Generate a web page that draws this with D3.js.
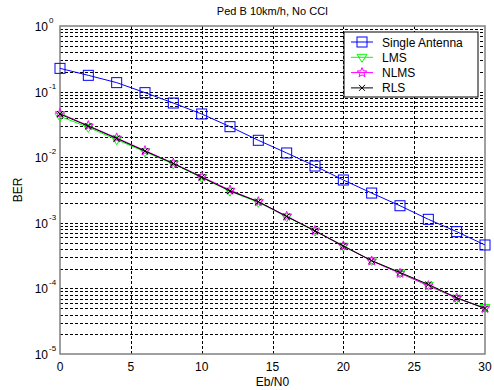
<!DOCTYPE html>
<html lang="en">
<head>
<meta charset="UTF-8">
<title>BER</title>
<script src="https://d3js.org/d3.v7.min.js"></script>
<style>
  body { margin: 0; background: #fff; }
  text { font-family: Arial, "Liberation Sans", sans-serif; }
</style>
</head>
<body>
<script>
    const width = 494;
    const height = 390;
    const margin = {left: 60, top: 26, right: 9, bottom: 36};

    // values
    const ebn0 = [0, 2, 4, 6, 8, 10, 12, 14, 16, 18, 20, 22, 24, 26, 28, 30];
    const single = [0.226, 0.177, 0.137, 0.0964, 0.067, 0.0456, 0.0292, 0.0181, 0.0116, 0.00734, 0.00449, 0.00284, 0.00182, 0.00113, 0.000733, 0.000459];
    const lms = [0.042, 0.0285, 0.0185, 0.0121, 0.0079, 0.0049, 0.00303, 0.00205, 0.00123, 0.00075, 0.00044, 0.000266, 0.000172, 0.000111, 0.0000705, 0.000051];
    const nlms = [0.0465, 0.0303, 0.0197, 0.0126, 0.0081, 0.00505, 0.00315, 0.0021, 0.00126, 0.00076, 0.000445, 0.000262, 0.00017, 0.00011, 0.0000712, 0.0000495];
    const rls = [0.0455, 0.0298, 0.0193, 0.0124, 0.008, 0.00495, 0.00306, 0.0021, 0.00125, 0.00075, 0.000443, 0.000265, 0.000175, 0.000115, 0.000072, 0.0000495];
    const xTicks = [0, 5, 10, 15, 20, 25, 30];
    const yExps = [0, -1, -2, -3, -4, -5];
    const names = ["Single Antenna", "LMS", "NLMS", "RLS"];
    const colors = ["#0000ff", "#00ff00", "#ff00ff", "#000000"];
    const symbols = ["square", "triangle", "star", "x"];

    const x = d3.scaleLinear().domain([0, 30]).range([margin.left, width - margin.right]);
    const y = d3.scaleLog().domain([1e-5, 1]).range([height - margin.bottom, margin.top]);

    const svg = d3.select("body").append("svg").attr("width", width).attr("height", height);

    // grid
    const grid = svg.append("g").attr("stroke", "#000").attr("stroke-dasharray", "3,2").attr("stroke-width", 1);
    const minors = [];
    for (let e = -5; e < 0; e++) for (let m = 1; m <= 9; m++) if (!(e === -5 && m === 1)) minors.push(m * Math.pow(10, e));
    grid.selectAll("line.h").data(minors).join("line")
        .attr("x1", x(0)).attr("x2", x(30))
        .attr("y1", d => Math.round(y(d)) + 0.5).attr("y2", d => Math.round(y(d)) + 0.5);
    grid.selectAll("line.v").data(xTicks.slice(1, -1)).join("line")
        .attr("x1", d => Math.round(x(d)) + 0.5).attr("x2", d => Math.round(x(d)) + 0.5)
        .attr("y1", y(1)).attr("y2", y(1e-5));

    // box
    svg.append("rect").attr("x", x(0)).attr("y", y(1)).attr("width", x(30) - x(0)).attr("height", y(1e-5) - y(1))
        .attr("fill", "none").attr("stroke", "#808080").attr("stroke-width", 1.5);

    // tick labels
    svg.selectAll("text.xt").data(xTicks).join("text")
        .attr("x", d => x(d)).attr("y", height - margin.bottom + 17)
        .attr("text-anchor", "middle").attr("font-size", 12).text(d => d);

    const yl = svg.selectAll("g.yt").data(yExps).join("g")
        .attr("transform", d => `translate(${margin.left - 6},${y(Math.pow(10, d)) + 5})`);
    yl.append("text").attr("x", -6).attr("text-anchor", "end").attr("font-size", 12).text("10");
    yl.append("text").attr("x", -5).attr("y", -8).attr("font-size", 8).text(d => d);

    svg.append("text").attr("x", (x(0) + x(30)) / 2).attr("y", 15).attr("text-anchor", "middle")
        .attr("font-size", 11).text("Ped B 10km/h, No CCI");
    svg.append("text").attr("x", (x(0) + x(30)) / 2).attr("y", height - 4).attr("text-anchor", "middle")
        .attr("font-size", 12).text("Eb/N0");
    svg.append("text").attr("transform", `translate(22,${(y(1) + y(1e-5)) / 2}) rotate(-90)`)
        .attr("text-anchor", "middle").attr("font-size", 12).text("BER");

    // markers
    function marker(g, type, color) {
        if (type === "square") {
            g.append("rect").attr("x", -5).attr("y", -5).attr("width", 10).attr("height", 10)
                .attr("fill", "none").attr("stroke", color);
        } else if (type === "triangle") {
            g.append("path").attr("d", "M-5,-3L5,-3L0,5Z").attr("fill", "none").attr("stroke", color);
        } else if (type === "star") {
            const pts = [];
            for (let i = 0; i < 10; i++) {
                const r = i % 2 ? 2.2 : 5;
                const a = -Math.PI / 2 + i * Math.PI / 5;
                pts.push([r * Math.cos(a), r * Math.sin(a)]);
            }
            g.append("path").attr("d", "M" + pts.join("L") + "Z").attr("fill", "none").attr("stroke", color);
        } else {
            g.append("path").attr("d", "M-3,-3L3,3M-3,3L3,-3").attr("stroke", color);
        }
    }

    const series = [single, lms, nlms, rls];
    const line = d3.line().x(d => x(d[0])).y(d => y(d[1]));
    series.forEach((vals, i) => {
        const pts = ebn0.map((e, j) => [e, vals[j]]);
        svg.append("path").datum(pts).attr("d", line).attr("fill", "none")
            .attr("stroke", colors[i]).attr("stroke-width", 1);
        pts.forEach(p => {
            const g = svg.append("g").attr("transform", `translate(${x(p[0])},${y(p[1])})`);
            marker(g, symbols[i], colors[i]);
        });
    });

    // legend
    const lg = svg.append("g").attr("transform", "translate(344,32)");
    lg.append("rect").attr("width", 134).attr("height", 65).attr("fill", "#fff")
        .attr("stroke", "#000").attr("stroke-width", 1);
    names.forEach((n, i) => {
        const yy = 10 + i * 15.3;
        lg.append("line").attr("x1", 7).attr("x2", 29).attr("y1", yy).attr("y2", yy).attr("stroke", colors[i]);
        marker(lg.append("g").attr("transform", `translate(18,${yy})`), symbols[i], colors[i]);
        lg.append("text").attr("x", 38).attr("y", yy + 4.5).attr("font-size", 12).text(n);
    });
</script>
</body>
</html>
